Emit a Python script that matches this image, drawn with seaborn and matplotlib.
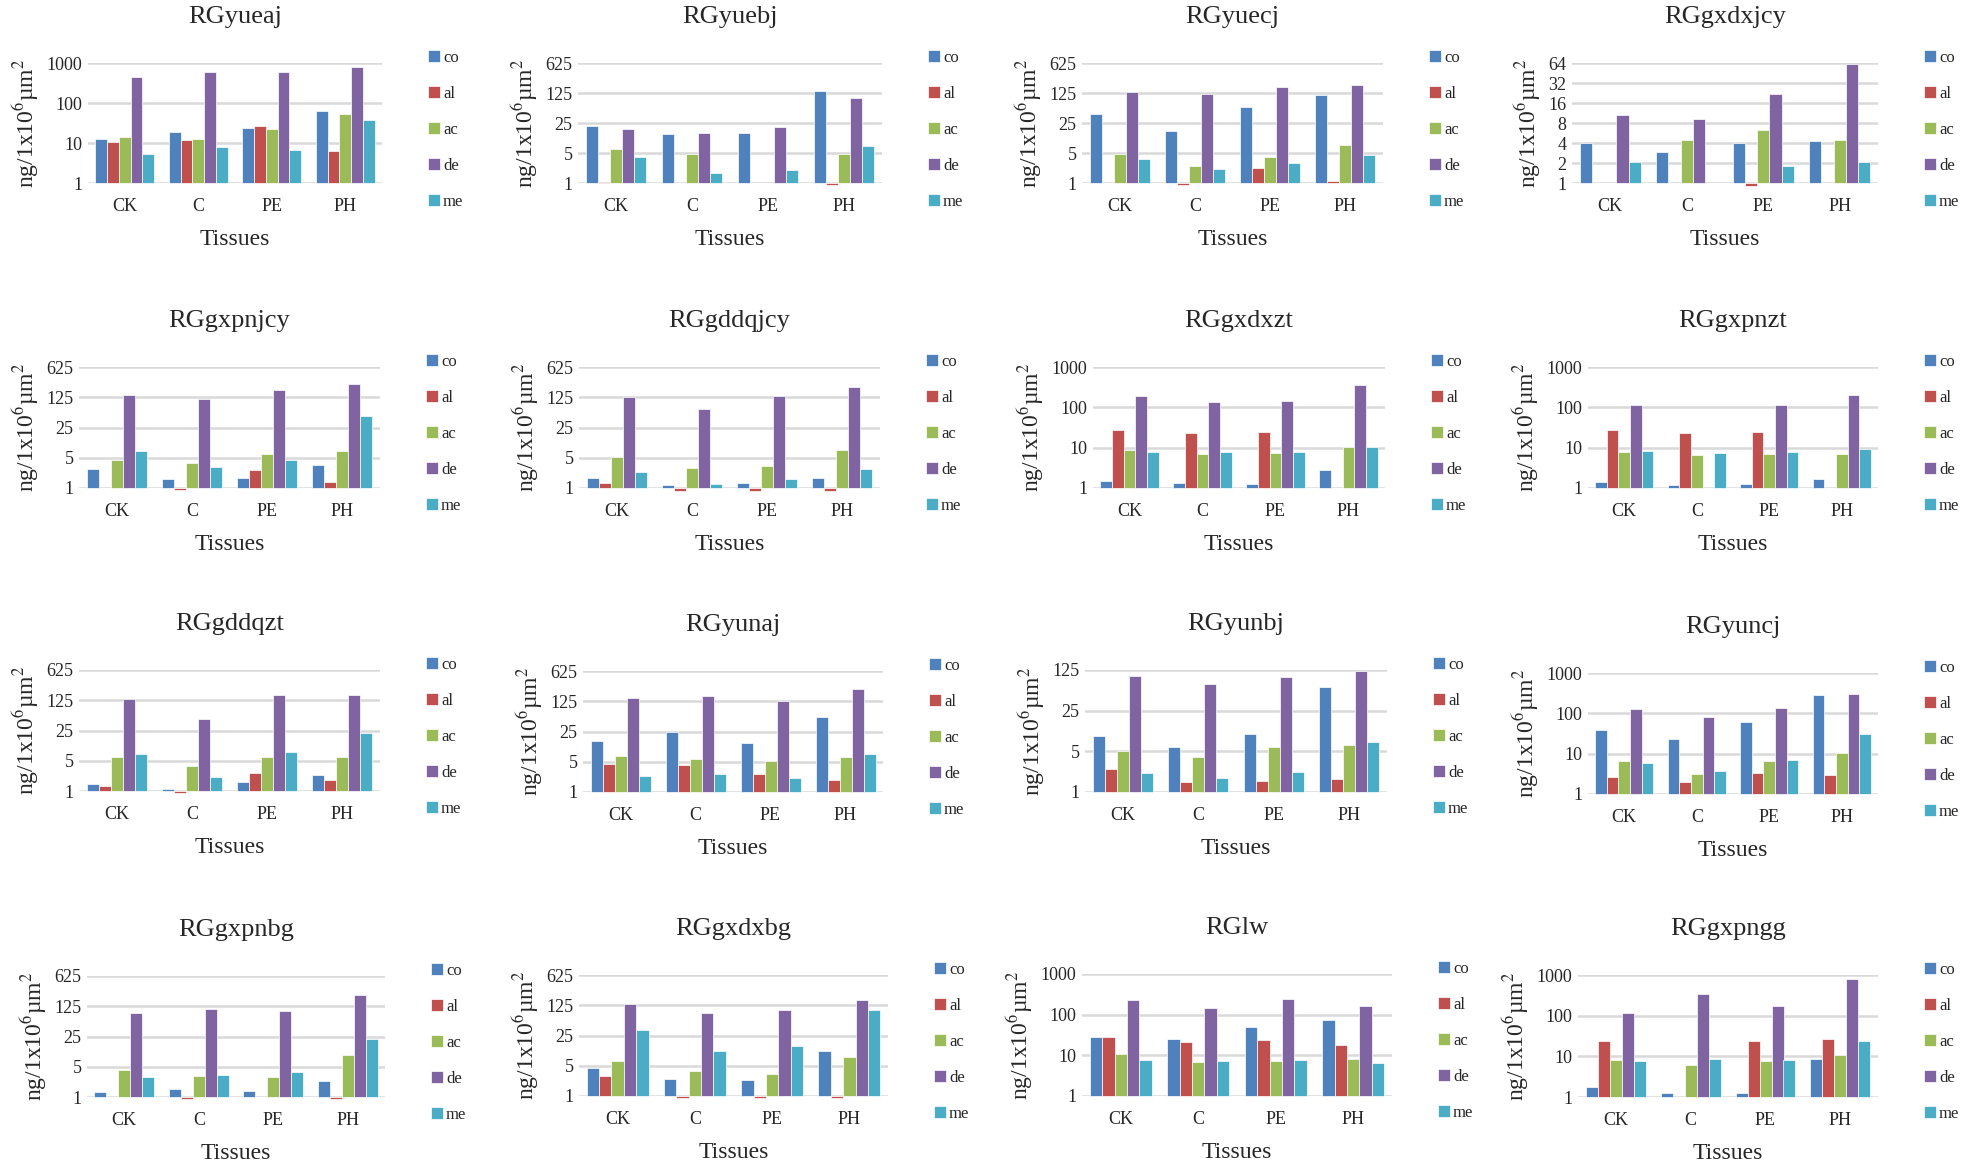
import numpy as np
import pandas as pd
import matplotlib
matplotlib.use("Agg")
import matplotlib.pyplot as plt
from matplotlib.ticker import NullLocator
import seaborn as sns

N = np.nan

tissues = ['CK', 'C', 'PE', 'PH']
series = ['co', 'al', 'ac', 'de', 'me']
colors = ['#4F81BD', '#C0504D', '#9BBB59', '#8064A2', '#4BACC6']

# rows: co, al, ac, de, me ; columns: CK, C, PE, PH
RGyueaj = [[12.6, 18.5, 23.3, 63], [10.4, 11.9, 26.6, 6.2], [14.4, 12.4, 22, 52],
           [455, 585, 585, 794], [5.4, 8.1, 6.8, 37.6]]
RGyuebj = [[21.1, 14.0, 14.3, 141], [1.07, N, N, 0.9], [6.2, 4.76, N, 4.67],
           [18.6, 14.8, 20, 93.8], [4.0, 1.67, 2.0, 7.4]]
RGyuecj = [[40, 16.2, 59, 114], [N, 0.88, 2.26, 1.13], [4.85, 2.47, 4.0, 7.7],
           [131, 116, 175, 194], [3.7, 2.1, 2.95, 4.5]]
RGgxdxjcy = [[3.94, 2.92, 3.98, 4.22], [N, N, 0.89, N], [N, 4.42, 6.25, 4.42],
             [10.7, 9.35, 22.2, 61], [2.09, N, 1.8, 2.09]]
RGgxpnjcy = [[2.76, 1.64, 1.74, 3.41], [N, 0.88, 2.57, 1.4], [4.53, 3.86, 6.25, 7.07],
             [143, 116, 180, 257], [7.07, 3.07, 4.37, 45.5]]
RGgddqjcy = [[1.67, 1.15, 1.31, 1.67], [1.31, 0.87, 0.87, 0.87], [5.2, 2.86, 3.23, 7.7],
             [126, 67.5, 133, 218], [2.3, 1.21, 1.62, 2.76]]
RGgxdxzt = [[1.47, 1.33, 1.28, 2.86], [27.7, 23.3, 24.2, N], [8.6, 7.1, 7.3, 10.3],
            [190, 137, 140, 357], [8.0, 7.7, 8.0, 10.1]]
RGgxpnzt = [[1.41, 1.19, 1.23, 1.64], [27.2, 23.3, 24.2, N], [7.7, 6.5, 7.0, 6.9],
            [113, N, 116, 197], [8.5, 7.3, 7.7, 9.1]]
RGgddqzt = [[1.48, 1.11, 1.64, 2.3], [1.3, 0.9, 2.64, 1.76], [6.08, 3.77, 6.08, 6.08],
            [134, 47, 163, 163], [7.0, 2.06, 7.9, 21.7]]
RGyunaj = [[15.2, 24.6, 13.7, 54.6], [4.37, 4.22, 2.66, 1.93], [6.8, 5.7, 5.3, 6.5],
           [145, 168, 126, 235], [2.3, 2.57, 2.1, 7.5]]
RGyunbj = [[9.0, 5.9, 9.8, 63], [2.48, 1.51, 1.55, 1.7], [5.0, 4.05, 6.0, 6.3],
           [99.4, 71.4, 95.5, 120], [2.14, 1.77, 2.23, 7.1]]
RGyuncj = [[39, 23.3, 60.5, 289], [2.7, 2.03, 3.33, 2.97], [6.7, 3.14, 6.4, 10.1],
           [127, 79, 135, 306], [5.8, 3.73, 6.9, 29.9]]
RGgxpnbg = [[1.3, 1.5, 1.4, 2.3], [N, 0.9, N, 0.9], [4.1, 3.1, 2.9, 9.1],
            [85, 110, 95, 225], [2.9, 3.3, 3.8, 22]]
RGgxdxbg = [[4.4, 2.5, 2.4, 11.2], [2.9, 0.9, 0.9, 0.9], [6.6, 3.8, 3.3, 8],
            [133, 83, 95, 165], [33, 11, 14.5, 95]]
RGlw = [[29, 25.5, 51, 74], [27.5, 21, 24, 18], [11, 6.7, 7.2, 8.3],
        [225, 148, 245, 160], [7.8, 7.2, 7.6, 6.3]]
RGgxpngg = [[1.8, 1.25, 1.25, 8.6], [24, N, 24.5, 26.5], [7.9, 6.0, 7.6, 10.5],
            [115, 340, 175, 780], [7.7, 8.4, 8.1, 24]]

titles = ['RGyueaj', 'RGyuebj', 'RGyuecj', 'RGgxdxjcy',
          'RGgxpnjcy', 'RGgddqjcy', 'RGgxdxzt', 'RGgxpnzt',
          'RGgddqzt', 'RGyunaj', 'RGyunbj', 'RGyuncj',
          'RGgxpnbg', 'RGgxdxbg', 'RGlw', 'RGgxpngg']
panels = [RGyueaj, RGyuebj, RGyuecj, RGgxdxjcy,
          RGgxpnjcy, RGgddqjcy, RGgxdxzt, RGgxpnzt,
          RGgddqzt, RGyunaj, RGyunbj, RGyuncj,
          RGgxpnbg, RGgxdxbg, RGlw, RGgxpngg]
bases = [10, 5, 5, 2, 5, 5, 10, 10, 5, 5, 5, 10, 5, 5, 10, 10]
ytops = [1000, 625, 625, 64, 625, 625, 1000, 1000, 625, 625, 125, 1000, 625, 625, 1000, 1000]

# axes boxes in pixels: left, top, right, bottom
W, H = 1961, 1166
boxes = [(88, 63, 382, 183), (578, 63, 882, 183), (1082, 63, 1383, 183), (1572, 63, 1878, 183),
         (79, 367, 380, 488), (579, 367, 880, 488), (1093, 367, 1385, 488), (1588, 367, 1878, 488),
         (79, 670, 380, 791), (583, 671, 883, 792), (1085, 670, 1387, 792), (1588, 673, 1878, 794),
         (87, 976, 385, 1097), (579, 975, 888, 1096), (1082, 974, 1392, 1096), (1578, 975, 1878, 1097)]

sns.set_style("white")
plt.rcParams['font.family'] = ['Liberation Serif', 'DejaVu Serif']
plt.rcParams['mathtext.fontset'] = 'stix'

fig = plt.figure(figsize=(W / 100, H / 100), dpi=100)

for i in range(16):
    l, t, r, b = boxes[i]
    ax = fig.add_axes([l / W, 1 - b / H, (r - l) / W, (b - t) / H])
    vals = np.array(panels[i], dtype=float)
    df = pd.DataFrame({
        'Tissue': np.tile(tissues, len(series)),
        'series': np.repeat(series, len(tissues)),
        'value': vals.ravel(),
    })
    sns.barplot(data=df, x='Tissue', y='value', hue='series', hue_order=series,
                order=tissues, palette=colors, saturation=1, errorbar=None,
                width=0.8, edgecolor='white', linewidth=0.5, ax=ax)
    # bars grow from 1 like in the original (values below 1 hang down)
    for cont in ax.containers:
        for bar in cont:
            h = bar.get_height()
            if np.isnan(h):
                continue
            bar.set_y(1)
            bar.set_height(h - 1)
            bar.set_clip_on(False)

    base = bases[i]
    ax.set_yscale('log', base=base)
    n = int(round(np.log(ytops[i]) / np.log(base)))
    ticks = [base ** k for k in range(n + 1)]
    ax.set_yticks(ticks)
    ax.set_yticklabels([str(v) for v in ticks])
    ax.yaxis.set_minor_locator(NullLocator())
    ax.set_ylim(1, ytops[i])
    ax.yaxis.grid(True, color='#D9D9D9', linewidth=1.8)
    ax.set_axisbelow(True)
    for s in ax.spines.values():
        s.set_visible(False)
    ax.tick_params(axis='both', length=0, labelsize=13)
    ax.tick_params(axis='x', pad=11)
    ax.tick_params(axis='y', pad=4)

    ax.set_title(titles[i], fontsize=19, pad=29)
    ax.set_xlabel('Tissues', fontsize=17, labelpad=10)
    ax.set_ylabel(r'ng/1x10$^6$µm$^2$', fontsize=17, labelpad=4)

    sns.move_legend(ax, 'upper left', bbox_to_anchor=(1 + 46 / (r - l), 1 + 13 / (b - t)),
                    frameon=False, title=None, fontsize=12, labelspacing=1.2,
                    handlelength=0.7, handleheight=0.7, handletextpad=0.2,
                    borderpad=0, borderaxespad=0)

fig.savefig('out.png', dpi=100)
